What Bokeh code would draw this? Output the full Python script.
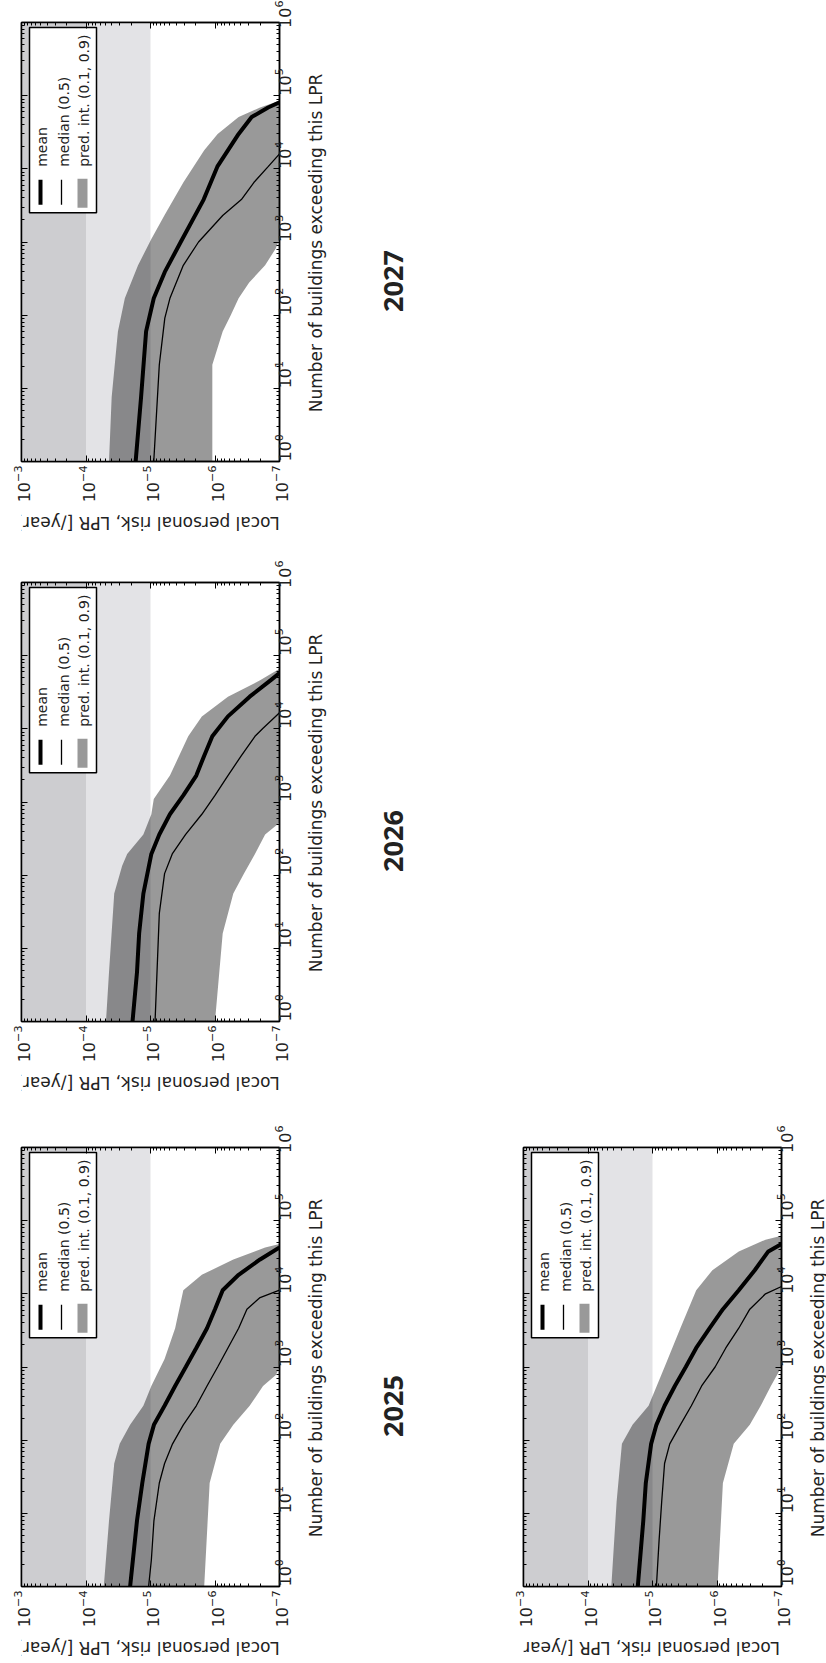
import math
from bokeh.plotting import figure
from bokeh.models import Range1d, LogAxis, FixedTicker, BoxAnnotation, CustomJSTickFormatter
from bokeh.layouts import column, row
from bokeh.embed import file_html
from bokeh.resources import INLINE
from bokeh.core.properties import value

FONT = "DejaVu Sans"

# ---------------- axes / labels ----------------
N_TICKS = [1, 10, 100, 1000, 10000, 100000, 1000000]
LPR_TICKS = [1e-3, 1e-4, 1e-5, 1e-6, 1e-7]
N_MINOR = [m * 10 ** k for k in range(6) for m in range(2, 10)]
LPR_MINOR = [m * 10.0 ** k for k in range(-7, -3) for m in range(2, 10)]
N_LABEL = "Number of buildings exceeding this LPR"
LPR_LABEL = "Local personal risk, LPR [/year]"
LEGEND_LABELS = ["mean", "median (0.5)", "pred. int. (0.1, 0.9)"]
YEARS = ["2027", "2026", "2025", ""]
ZONE_EDGES = [1e-3, 1e-4, 1e-5]

# ---------------- data: (N buildings, LPR) ----------------
mean_2027 = [(1, 1.7e-5), (7.6, 1.4e-5), (60, 1.17e-5), (170, 8.9e-6), (390, 6.0e-6), (1000, 3.4e-6),
             (3800, 1.5e-6), (1.07e4, 9.2e-7), (3e4, 4.3e-7), (5.1e4, 2.7e-7), (6.9e4, 1.5e-7), (8.1e4, 1e-7)]
median_2027 = [(1, 8.9e-6), (21, 7.3e-6), (91, 6.0e-6), (170, 5.0e-6), (480, 3.1e-6), (1000, 1.8e-6),
               (2300, 7.6e-7), (3800, 3.9e-7), (6500, 2.5e-7), (1.07e4, 1.5e-7), (1.6e4, 1e-7)]
hi_2027 = [(1, 4.4e-5), (7.6, 4.0e-5), (60, 3.2e-5), (170, 2.5e-5), (480, 1.56e-5), (1100, 9.7e-6),
           (2300, 6.1e-6), (6500, 3.1e-6), (1.8e4, 1.47e-6), (3e4, 9.1e-7), (5.1e4, 4.3e-7), (6.9e4, 2.0e-7),
           (8.5e4, 1e-7)]
lo_2027 = [(1, 1.1e-6), (21, 1.1e-6), (60, 7.6e-7), (100, 5.7e-7), (170, 4.3e-7), (280, 2.95e-7),
           (480, 1.67e-7), (810, 1.15e-7), (1100, 1e-7)]

mean_2026 = [(1, 1.9e-5), (4.7, 1.62e-5), (16, 1.5e-5), (56, 1.29e-5), (195, 9.7e-6), (360, 7.3e-6),
             (680, 5.0e-6), (1230, 3.1e-6), (2300, 1.95e-6), (4300, 1.47e-6), (7900, 1.1e-6), (1.48e4, 6.3e-7),
             (2.75e4, 2.9e-7), (4.6e4, 1.38e-7), (5.8e4, 1e-7)]
median_2026 = [(1, 8.5e-6), (30, 7.3e-6), (105, 6.05e-6), (195, 4.6e-6), (360, 2.85e-6), (680, 1.6e-6),
               (1230, 1.0e-6), (2300, 6.3e-7), (4300, 3.9e-7), (7900, 2.4e-7), (1.02e4, 1.8e-7), (1.66e4, 1e-7)]
hi_2026 = [(1, 4.9e-5), (4.7, 4.4e-5), (56, 3.65e-5), (135, 2.75e-5), (195, 2.3e-5), (360, 1.29e-5),
           (680, 9.7e-6), (1100, 8.9e-6), (2300, 5.0e-6), (7900, 2.6e-6), (1.48e4, 1.6e-6), (2.75e4, 6.3e-7),
           (4.6e4, 2.0e-7), (6.6e4, 1e-7)]
lo_2026 = [(1, 1.0e-6), (16, 7.6e-7), (56, 5.2e-7), (105, 3.55e-7), (195, 2.4e-7), (360, 1.67e-7), (520, 1e-7)]

mean_2025 = [(1, 2.07e-5), (7.9, 1.62e-5), (26, 1.34e-5), (89, 1.07e-5), (162, 8.85e-6), (295, 6.05e-6),
             (550, 4.15e-6), (1000, 2.84e-6), (1820, 1.95e-6), (3390, 1.33e-6), (6170, 1.0e-6), (1.12e4, 7.6e-7),
             (1.82e4, 4.3e-7), (2.95e4, 2.0e-7), (4.3e4, 1e-7)]
median_2025 = [(1, 1.07e-5), (2.3, 9.7e-6), (7.9, 8.85e-6), (26, 7.3e-6), (48, 6.05e-6), (89, 4.55e-6),
               (162, 3.1e-6), (295, 1.95e-6), (550, 1.33e-6), (1000, 9.1e-7), (1820, 6.3e-7), (3390, 4.3e-7),
               (6170, 3.2e-7), (8900, 2.0e-7), (1.12e4, 1e-7)]
hi_2025 = [(1, 5.3e-5), (7.9, 4.4e-5), (48, 3.65e-5), (89, 3.0e-5), (162, 2.07e-5), (295, 1.29e-5),
           (550, 9.7e-6), (1290, 6.05e-6), (3390, 4.15e-6), (1.12e4, 3.1e-6), (1.82e4, 1.6e-6), (2.95e4, 5.2e-7),
           (4.3e4, 1.67e-7), (4.8e4, 1e-7)]
lo_2025 = [(1, 1.47e-6), (26, 1.21e-6), (89, 8.3e-7), (162, 5.2e-7), (295, 2.9e-7), (550, 1.8e-7),
           (780, 1.14e-7), (1000, 1e-7)]

mean_4 = [(1, 1.69e-5), (7.9, 1.39e-5), (26, 1.27e-5), (89, 1.05e-5), (162, 8.7e-6), (295, 6.5e-6),
          (550, 4.5e-6), (1000, 3.05e-6), (1820, 2.1e-6), (3390, 1.3e-6), (6170, 8.1e-7), (1.12e4, 4.6e-7),
          (2.1e4, 2.6e-7), (3.8e4, 1.6e-7), (4.8e4, 1e-7)]
median_4 = [(1, 8.7e-6), (4.3, 7.9e-6), (14.5, 7.2e-6), (48, 6.5e-6), (89, 5.4e-6), (162, 3.7e-6),
            (295, 2.5e-6), (550, 1.73e-6), (1000, 1.07e-6), (1820, 7.3e-7), (3390, 4.6e-7), (6170, 3.1e-7),
            (1e4, 1.77e-7), (1.26e4, 1e-7)]
hi_4 = [(1, 4.35e-5), (14.5, 3.6e-5), (89, 2.98e-5), (162, 2.04e-5), (295, 1.15e-5), (1000, 6.5e-6),
        (3390, 3.7e-6), (1.12e4, 2.1e-6), (2.1e4, 1.18e-6), (3.8e4, 4.6e-7), (5.5e4, 1.77e-7), (6.2e4, 1e-7)]
lo_4 = [(1, 9.8e-7), (26, 8.1e-7), (89, 5.5e-7), (162, 3.1e-7), (295, 2.1e-7), (550, 1.46e-7), (1000, 1e-7)]

# ---------------- styling ----------------
FW, FH = 258, 441           # frame size in px
ZONE_COLORS = ["#cdcdd0", "#e3e3e6"]
BAND_COLOR, BAND_ALPHA = "#000000", 0.4
TEXT_COLOR = "#222222"


def frame_to_data(fx, fy):
    """frame-relative pixel (from left, from top) -> (LPR, N)"""
    return 10 ** (-3 - 4.0 * fx / FW), 10 ** (6 - 6.0 * fy / FH)


def style_axis(ax, ticks, minor):
    ax.ticker = FixedTicker(ticks=ticks, minor_ticks=minor)
    ax.major_tick_in = 6
    ax.major_tick_out = 0
    ax.minor_tick_in = 3
    ax.minor_tick_out = 0
    ax.major_tick_line_color = "black"
    ax.minor_tick_line_color = "black"
    ax.axis_line_color = "black"
    ax.axis_line_width = 1.5
    ax.major_label_text_font = FONT
    ax.major_label_text_font_size = "16px"
    ax.major_label_text_color = TEXT_COLOR


def make_panel(mean, median, hi, lo, width, height, left, top):
    p = figure(width=width, height=height, x_axis_type="log", y_axis_type="log",
               x_range=Range1d(1e-3, 1e-7), y_range=Range1d(1, 1e6),
               y_axis_location="right", output_backend="svg", toolbar_location=None,
               min_border_left=left, min_border_top=top,
               min_border_right=width - left - FW, min_border_bottom=height - top - FH)
    p.grid.visible = False
    p.outline_line_color = "black"
    p.outline_line_width = 1.5

    # risk zones
    for i, c in enumerate(ZONE_COLORS):
        p.add_layout(BoxAnnotation(left=ZONE_EDGES[i], right=ZONE_EDGES[i + 1], fill_color=c,
                                   fill_alpha=1.0, line_color=None, level="underlay"))

    # prediction band, median, mean
    bx = [v for _, v in hi] + [v for _, v in lo][::-1]
    by = [n for n, _ in hi] + [n for n, _ in lo][::-1]
    p.patch(bx, by, fill_color=BAND_COLOR, fill_alpha=BAND_ALPHA, line_color=None)
    p.line([v for _, v in median], [n for n, _ in median], line_color="black", line_width=1.3)
    p.line([v for _, v in mean], [n for n, _ in mean], line_color="black", line_width=4)

    # axes (ticks inside on all four sides)
    xa = p.xaxis[0]
    style_axis(xa, LPR_TICKS, LPR_MINOR)
    xa.major_label_orientation = math.pi / 2
    xa.major_label_standoff = 4
    ya = p.yaxis[0]
    style_axis(ya, N_TICKS, N_MINOR)
    ya.major_label_orientation = math.pi / 2
    ya.major_label_standoff = 3

    blank = CustomJSTickFormatter(code="return ''")
    la = LogAxis(formatter=blank, major_label_standoff=0)
    style_axis(la, N_TICKS, N_MINOR)
    p.add_layout(la, "left")
    ta = LogAxis(formatter=blank, major_label_standoff=0)
    style_axis(ta, LPR_TICKS, LPR_MINOR)
    p.add_layout(ta, "above")

    # legend (rotated with the chart)
    bl, bt = frame_to_data(8, 5)
    br, bb = frame_to_data(75, 191)
    p.quad(left=[bl], right=[br], top=[bt], bottom=[bb], fill_color="white", line_color="black", line_width=1.5)
    gx0, gy0 = frame_to_data(19, 183)
    gx1, gy1 = frame_to_data(40, 158)
    p.segment(x0=[gx0], y0=[gy0], x1=[gx0], y1=[gy1], line_color="black", line_width=4)
    p.segment(x0=[gx1], y0=[gy0], x1=[gx1], y1=[gy1], line_color="black", line_width=1.3)
    pl, pb = frame_to_data(56, 186)
    pr, pt = frame_to_data(66, 157)
    p.quad(left=[pl], right=[pr], top=[pt], bottom=[pb], fill_color=BAND_COLOR, fill_alpha=BAND_ALPHA,
           line_color=None)
    tx = [frame_to_data(f, 145)[0] for f in (20, 42, 62)]
    ty = [frame_to_data(0, 145)[1]] * 3
    p.text(x=tx, y=ty, text=LEGEND_LABELS, angle=math.pi / 2, text_align="left", text_baseline="middle",
           text_font=value(FONT), text_font_size="14px", text_color=TEXT_COLOR)
    return p


def blank_fig(width, height):
    f = figure(width=width, height=height, x_range=Range1d(0, width), y_range=Range1d(0, height),
               x_axis_location=None, y_axis_location=None, output_backend="svg", toolbar_location=None,
               min_border=0)
    f.grid.visible = False
    f.outline_line_color = None
    return f


def side_fig(width, height, label_x, label_cy, year, year_x, year_cy):
    f = blank_fig(width, height)
    f.text(x=[label_x], y=[height - label_cy], text=[N_LABEL], angle=math.pi / 2, text_align="center",
           text_baseline="middle", text_font=value(FONT), text_font_size="17px", text_color=TEXT_COLOR)
    if year:
        f.text(x=[year_x], y=[height - year_cy], text=[year], angle=math.pi / 2, text_align="center",
               text_baseline="middle", text_font=value("Open Sans"), text_font_style="bold",
               text_font_size="27px", text_color=TEXT_COLOR)
    return f


def bottom_fig(width, height, cx, cy):
    f = blank_fig(width, height)
    f.text(x=[cx], y=[height - cy], text=[LPR_LABEL], angle=math.pi, text_align="center",
           text_baseline="middle", text_font=value(FONT), text_font_size="17px", text_color=TEXT_COLOR)
    return f


PW, PH = 306, 505          # panel figure size
CX = 21 + FW / 2           # frame centre (x) inside panel figure
CY = 22 + FH / 2           # frame centre (y) inside panel figure

pa = make_panel(mean_2027, median_2027, hi_2027, lo_2027, PW, PH, 21, 22)
pb = make_panel(mean_2026, median_2026, hi_2026, lo_2026, PW, PH, 21, 22)
pc = make_panel(mean_2025, median_2025, hi_2025, lo_2025, PW, PH, 21, 22)
pd = make_panel(mean_4, median_4, hi_4, lo_4, 300, PH, 16, 22)

row_a = row(column(pa, bottom_fig(PW, 55, CX, 17)), side_fig(154, 560, 9, CY, YEARS[0], 87, CY + 38))
row_b = row(column(pb, bottom_fig(PW, 60, CX, 17)), side_fig(154, 565, 9, CY, YEARS[1], 87, CY + 38))
row_c = row(column(pc, bottom_fig(PW, 28, CX, 17)), side_fig(201, 533, 9, CY, YEARS[2], 87, CY + 38),
            column(pd, bottom_fig(300, 28, 16 + FW / 2, 17)), side_fig(20, 533, 10, CY, YEARS[3], 0, 0))

layout = column(row_a, row_b, row_c)
open("out.html", "w").write(file_html(layout, INLINE))
